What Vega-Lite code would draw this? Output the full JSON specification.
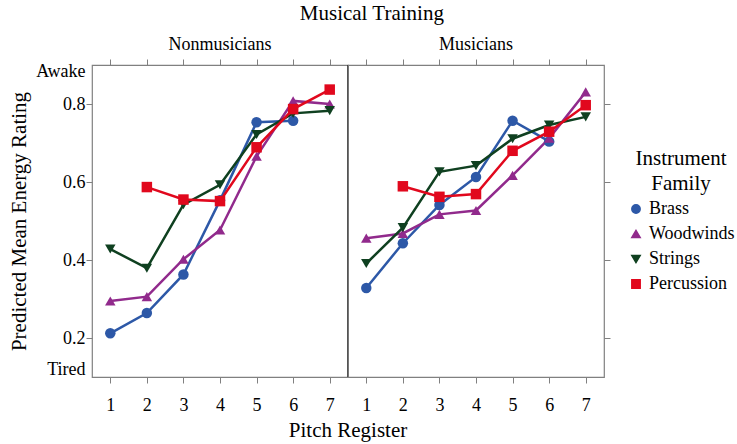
{
  "$schema": "https://vega.github.io/schema/vega-lite/v6.json",
  "background": "white",
  "padding": {"left": 8, "top": 2, "right": 0, "bottom": 2},
  "bounds": "flush",
  "title": {
    "text": "Musical Training",
    "anchor": "middle",
    "font": "Liberation Serif",
    "fontSize": 21,
    "fontWeight": "normal",
    "color": "black",
    "offset": 12
  },
  "config": {
    "font": "Liberation Serif",
    "view": {"stroke": "#808080", "strokeWidth": 1.2},
    "axis": {
      "labelFont": "Liberation Serif",
      "titleFont": "Liberation Serif",
      "labelFontSize": 18,
      "titleFontSize": 21,
      "titleFontWeight": "normal",
      "labelColor": "black",
      "titleColor": "black",
      "tickColor": "#808080",
      "tickSize": 6,
      "domain": false,
      "grid": false
    },
    "legend": {
      "titleFont": "Liberation Serif",
      "labelFont": "Liberation Serif",
      "titleFontSize": 21,
      "titleFontWeight": "normal",
      "titleLineHeight": 25,
      "labelFontSize": 18,
      "titleColor": "black",
      "labelColor": "black",
      "titleAlign": "center",
      "titleAnchor": "middle",
      "titlePadding": 6,
      "symbolSize": 70,
      "rowPadding": 7,
      "labelOffset": 4
    }
  },
  "data": {
    "values": [
      {"training": "Nonmusicians", "family": "Brass", "pitch": 1, "rating": 0.212},
      {"training": "Nonmusicians", "family": "Brass", "pitch": 2, "rating": 0.264},
      {"training": "Nonmusicians", "family": "Brass", "pitch": 3, "rating": 0.363},
      {"training": "Nonmusicians", "family": "Brass", "pitch": 4, "rating": 0.553},
      {"training": "Nonmusicians", "family": "Brass", "pitch": 5, "rating": 0.753},
      {"training": "Nonmusicians", "family": "Brass", "pitch": 6, "rating": 0.757},
      {"training": "Nonmusicians", "family": "Woodwinds", "pitch": 1, "rating": 0.295},
      {"training": "Nonmusicians", "family": "Woodwinds", "pitch": 2, "rating": 0.306},
      {"training": "Nonmusicians", "family": "Woodwinds", "pitch": 3, "rating": 0.402},
      {"training": "Nonmusicians", "family": "Woodwinds", "pitch": 4, "rating": 0.477},
      {"training": "Nonmusicians", "family": "Woodwinds", "pitch": 5, "rating": 0.666},
      {"training": "Nonmusicians", "family": "Woodwinds", "pitch": 6, "rating": 0.808},
      {"training": "Nonmusicians", "family": "Woodwinds", "pitch": 7, "rating": 0.8},
      {"training": "Nonmusicians", "family": "Strings", "pitch": 1, "rating": 0.428},
      {"training": "Nonmusicians", "family": "Strings", "pitch": 2, "rating": 0.379},
      {"training": "Nonmusicians", "family": "Strings", "pitch": 3, "rating": 0.542},
      {"training": "Nonmusicians", "family": "Strings", "pitch": 4, "rating": 0.593},
      {"training": "Nonmusicians", "family": "Strings", "pitch": 5, "rating": 0.722},
      {"training": "Nonmusicians", "family": "Strings", "pitch": 6, "rating": 0.776},
      {"training": "Nonmusicians", "family": "Strings", "pitch": 7, "rating": 0.783},
      {"training": "Nonmusicians", "family": "Percussion", "pitch": 2, "rating": 0.587},
      {"training": "Nonmusicians", "family": "Percussion", "pitch": 3, "rating": 0.555},
      {"training": "Nonmusicians", "family": "Percussion", "pitch": 4, "rating": 0.551},
      {"training": "Nonmusicians", "family": "Percussion", "pitch": 5, "rating": 0.689},
      {"training": "Nonmusicians", "family": "Percussion", "pitch": 6, "rating": 0.787},
      {"training": "Nonmusicians", "family": "Percussion", "pitch": 7, "rating": 0.837},
      {"training": "Musicians", "family": "Brass", "pitch": 1, "rating": 0.328},
      {"training": "Musicians", "family": "Brass", "pitch": 2, "rating": 0.443},
      {"training": "Musicians", "family": "Brass", "pitch": 3, "rating": 0.541},
      {"training": "Musicians", "family": "Brass", "pitch": 4, "rating": 0.613},
      {"training": "Musicians", "family": "Brass", "pitch": 5, "rating": 0.757},
      {"training": "Musicians", "family": "Brass", "pitch": 6, "rating": 0.704},
      {"training": "Musicians", "family": "Woodwinds", "pitch": 1, "rating": 0.456},
      {"training": "Musicians", "family": "Woodwinds", "pitch": 2, "rating": 0.468},
      {"training": "Musicians", "family": "Woodwinds", "pitch": 3, "rating": 0.517},
      {"training": "Musicians", "family": "Woodwinds", "pitch": 4, "rating": 0.527},
      {"training": "Musicians", "family": "Woodwinds", "pitch": 5, "rating": 0.617},
      {"training": "Musicians", "family": "Woodwinds", "pitch": 6, "rating": 0.712},
      {"training": "Musicians", "family": "Woodwinds", "pitch": 7, "rating": 0.831},
      {"training": "Musicians", "family": "Strings", "pitch": 1, "rating": 0.391},
      {"training": "Musicians", "family": "Strings", "pitch": 2, "rating": 0.483},
      {"training": "Musicians", "family": "Strings", "pitch": 3, "rating": 0.626},
      {"training": "Musicians", "family": "Strings", "pitch": 4, "rating": 0.642},
      {"training": "Musicians", "family": "Strings", "pitch": 5, "rating": 0.711},
      {"training": "Musicians", "family": "Strings", "pitch": 6, "rating": 0.746},
      {"training": "Musicians", "family": "Strings", "pitch": 7, "rating": 0.767},
      {"training": "Musicians", "family": "Percussion", "pitch": 2, "rating": 0.589},
      {"training": "Musicians", "family": "Percussion", "pitch": 3, "rating": 0.562},
      {"training": "Musicians", "family": "Percussion", "pitch": 4, "rating": 0.569},
      {"training": "Musicians", "family": "Percussion", "pitch": 5, "rating": 0.68},
      {"training": "Musicians", "family": "Percussion", "pitch": 6, "rating": 0.729},
      {"training": "Musicians", "family": "Percussion", "pitch": 7, "rating": 0.797}
    ]
  },
  "facet": {
    "column": {
      "field": "training",
      "type": "nominal",
      "sort": ["Nonmusicians", "Musicians"],
      "header": {
        "title": "Pitch Register",
        "titleOrient": "bottom",
        "labelOrient": "top",
        "labelFont": "Liberation Serif",
        "labelFontSize": 18,
        "labelColor": "black",
        "labelPadding": 5,
        "titleFont": "Liberation Serif",
        "titleFontSize": 21,
        "titleFontWeight": "normal",
        "titleColor": "black",
        "titlePadding": -4
      }
    }
  },
  "spacing": 0,
  "spec": {
    "width": 256,
    "height": 312,
    "layer": [
      {
        "transform": [
          {"filter": "datum.training === 'Nonmusicians'"},
          {"aggregate": [{"op": "count", "as": "n"}], "groupby": ["training"]}
        ],
        "mark": {"type": "rule", "color": "black", "strokeWidth": 1.4},
        "encoding": {
          "x": {"datum": 7.5, "type": "quantitative", "scale": {"domain": [0.5, 7.5], "nice": false, "zero": false}, "axis": null}
        }
      },
      {
        "mark": {"type": "line", "strokeWidth": 2.5},
        "encoding": {
          "x": {
            "field": "pitch",
            "type": "quantitative",
            "scale": {"domain": [0.5, 7.5], "nice": false, "zero": false},
            "axis": {"values": [1, 2, 3, 4, 5, 6, 7], "format": "d", "title": null, "labelPadding": 13}
          },
          "y": {
            "field": "rating",
            "type": "quantitative",
            "scale": {"domain": [0.1, 0.9], "nice": false, "zero": false},
            "axis": {
              "values": [0.12, 0.2, 0.4, 0.6, 0.8, 0.883],
              "labelExpr": "datum.value > 0.85 ? 'Awake' : datum.value < 0.15 ? 'Tired' : format(datum.value, '.1f')",
              "tickColor": {"condition": {"test": "datum.value > 0.85 || datum.value < 0.15", "value": "transparent"}, "value": "#808080"},
              "title": "Predicted Mean Energy Rating",
              "labelPadding": 1,
              "titlePadding": 6
            }
          },
          "color": {
            "field": "family",
            "type": "nominal",
            "title": ["Instrument", "Family"],
            "scale": {"domain": ["Brass", "Woodwinds", "Strings", "Percussion"], "range": ["#2D58A7", "#912A8C", "#0F4020", "#E1081D"]},
            "legend": {"orient": "none", "legendX": 535, "legendY": 83}
          }
        }
      },
      {
        "mark": {"type": "point", "filled": true, "opacity": 1},
        "encoding": {
          "x": {"field": "pitch", "type": "quantitative", "axis": null},
          "y": {"field": "rating", "type": "quantitative", "axis": null},
          "color": {
            "field": "family",
            "type": "nominal",
            "title": ["Instrument", "Family"],
            "legend": {"orient": "none", "legendX": 535, "legendY": 83}
          },
          "shape": {
            "field": "family",
            "type": "nominal",
            "title": ["Instrument", "Family"],
            "scale": {"domain": ["Brass", "Woodwinds", "Strings", "Percussion"], "range": ["circle", "triangle-up", "triangle-down", "square"]},
            "legend": {"orient": "none", "legendX": 535, "legendY": 83}
          },
          "size": {"value": 110}
        }
      },
      {
        "mark": {"type": "point", "opacity": 0},
        "encoding": {
          "x": {"field": "pitch", "type": "quantitative", "axis": {"orient": "top", "values": [1, 2, 3, 4, 5, 6, 7], "labels": false, "title": null}},
          "y": {"field": "rating", "type": "quantitative", "axis": {"orient": "right", "values": [0.2, 0.4, 0.6, 0.8], "labels": false, "title": null}}
        }
      }
    ],
    "resolve": {"axis": {"x": "independent", "y": "independent"}}
  }
}
